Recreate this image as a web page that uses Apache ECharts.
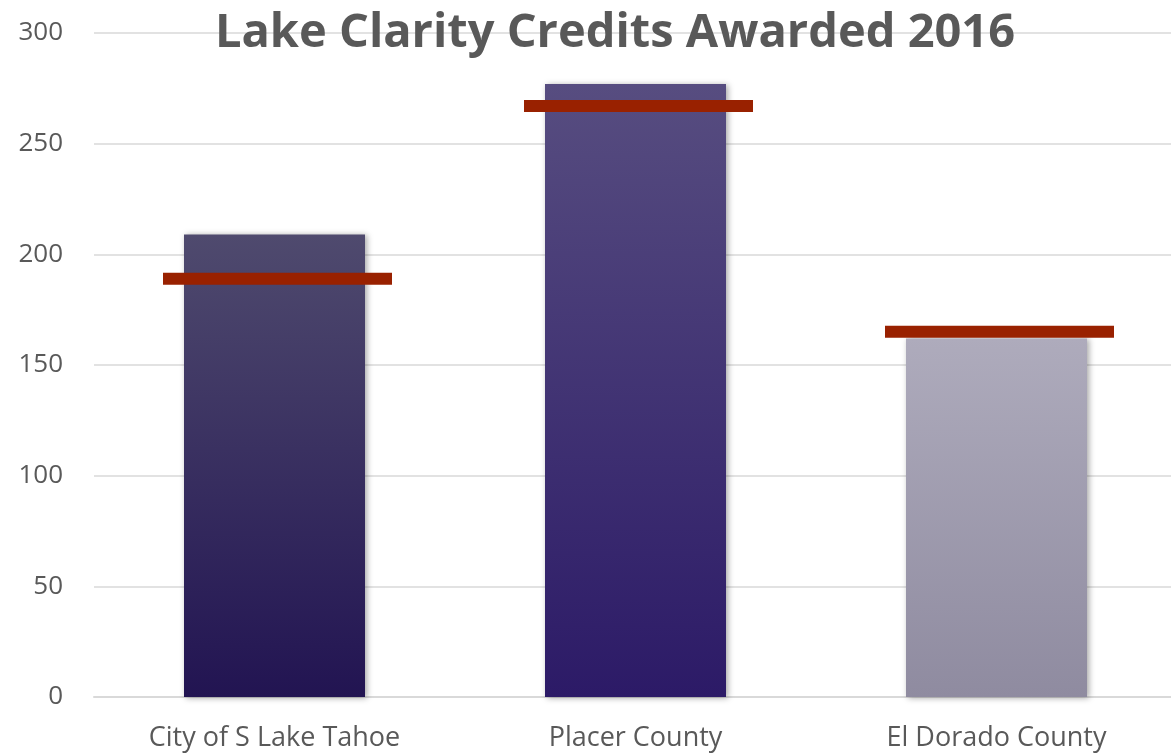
<!DOCTYPE html>
<html>
<head>
<meta charset="utf-8">
<script src="https://cdn.jsdelivr.net/npm/echarts@6/dist/echarts.min.js"></script>
<style>
html,body{margin:0;padding:0;background:#fff;}
#chart{width:1171px;height:753px;}
</style>
</head>
<body>
<div id="chart"></div>
<script>
const categories = ["City of S Lake Tahoe", "Placer County", "El Dorado County"];
const credits = [209, 277, 162];
const targets = [189, 267, 165];
const yTicks = [0, 50, 100, 150, 200, 250, 300];

const gradients = [
  ['#4f4a6e', '#221452'],
  ['#574d80', '#2c1a67'],
  ['#aeabbc', '#8f8ba0']
];

const chart = echarts.init(document.getElementById('chart'));
const font = '"Open Sans", "Liberation Sans", sans-serif';
chart.setOption({
  animation: false,
  title: {
    text: 'Lake Clarity Credits Awarded 2016',
    left: 610, top: 5, textAlign: 'center',
    textStyle: {fontFamily: font, fontSize: 47, fontWeight: 'bold', color: '#595959'}
  },
  grid: {left: 94, width: 1083, top: 33, height: 664, outerBoundsMode: 'none'},
  xAxis: {
    type: 'category', data: categories,
    axisLine: {lineStyle: {color: '#d9d9d9', width: 2}},
    axisTick: {show: false},
    axisLabel: {fontFamily: font, fontSize: 27, color: '#595959', margin: 28}
  },
  yAxis: {
    type: 'value', min: yTicks[0], max: yTicks[yTicks.length - 1], interval: 50,
    axisLine: {show: false}, axisTick: {show: false},
    splitLine: {lineStyle: {color: '#d9d9d9', width: 1.5}},
    axisLabel: {fontFamily: font, fontSize: 26, color: '#595959', margin: 31}
  },
  series: [
    {
      type: 'bar', barWidth: 181,
      data: credits.map((v, i) => ({
        value: v,
        itemStyle: {
          color: new echarts.graphic.LinearGradient(0, 0, 0, 1, [
            {offset: 0, color: gradients[i][0]},
            {offset: 1, color: gradients[i][1]}
          ]),
          shadowBlur: 6, shadowColor: 'rgba(0,0,0,0.35)', shadowOffsetX: 2, shadowOffsetY: 1
        }
      }))
    },
    {
      type: 'scatter', data: targets, z: 5,
      symbol: 'rect', symbolSize: [229, 12], symbolOffset: [3, 0],
      itemStyle: {color: '#992100', opacity: 1}
    }
  ]
});
</script>
</body>
</html>
